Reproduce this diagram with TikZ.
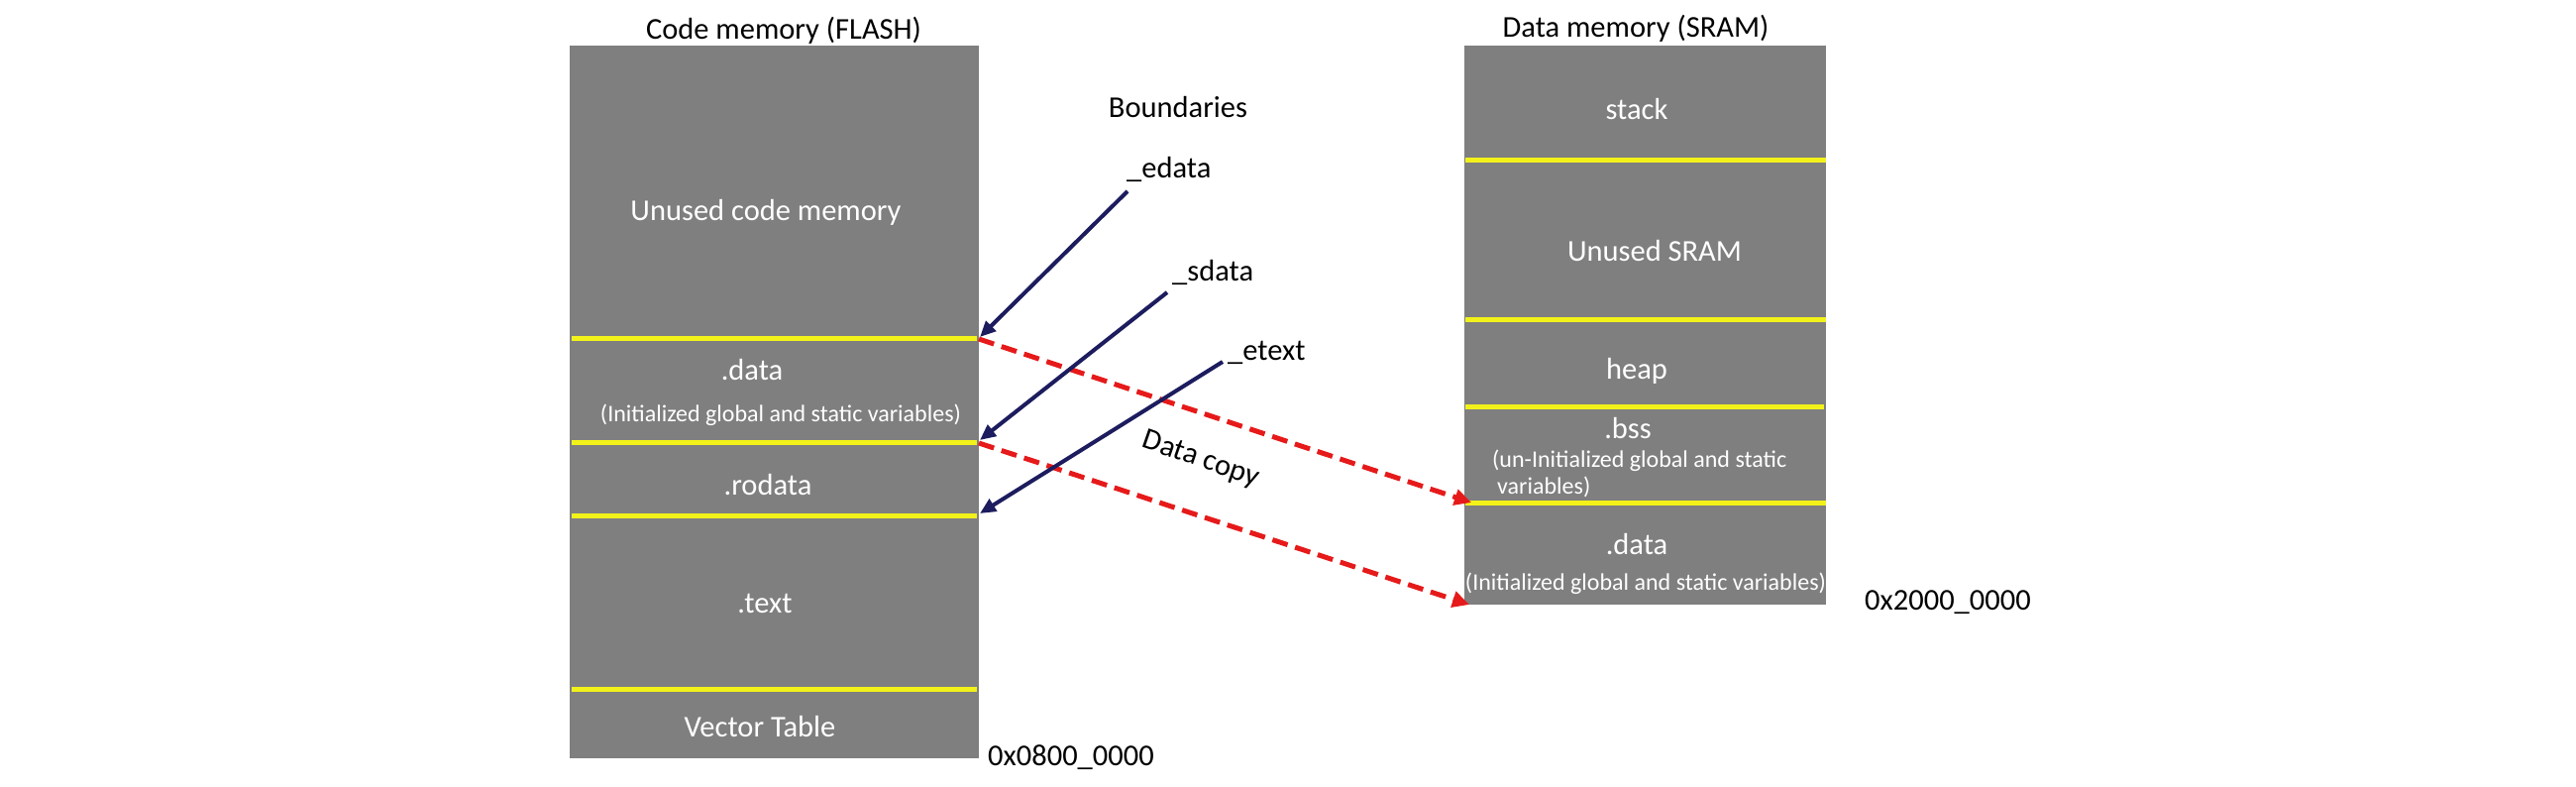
\documentclass[tikz,border=0pt]{standalone}
\usepackage{fontspec}
\setmainfont{Carlito}
\usetikzlibrary{arrows.meta}
\definecolor{memgray}{HTML}{7F7F7F}
\definecolor{bndyellow}{HTML}{F2F21A}
\definecolor{navyblue}{HTML}{1C1C5E}
\definecolor{copyred}{HTML}{E61A1A}
\begin{document}
\begin{tikzpicture}[x=1pt,y=-1pt,
  memblock/.style={fill=memgray, inner sep=0pt, anchor=north west},
  wtxt/.style={text=white, inner sep=0pt, anchor=base},
  btxt/.style={text=black, inner sep=0pt, anchor=base},
  bigfont/.style={font=\fontsize{30.5}{36}\selectfont},
  lnote/.style={font=\fontsize{24}{28}\selectfont},
  sepline/.style={draw=bndyellow, line width=5pt},
  bndarrow/.style={draw=navyblue, line width=4pt, -{Triangle[length=16pt,width=14pt]}},
  copyarrow/.style={draw=copyred, line width=5pt, dash pattern=on 16pt off 8pt, -{Triangle[length=17pt,width=16pt]}}]
\useasboundingbox[fill=white] (0,0) rectangle (2600,793);

% memory blocks
\node[memblock, minimum width=413pt, minimum height=719pt] (flash) at (575,46) {};
\node[memblock, minimum width=365pt, minimum height=564pt] (sram) at (1478,46) {};

% separators
\draw[sepline] (577,341) -- (986,341);
\draw[sepline] (577,446) -- (986,446);
\draw[sepline] (577,520) -- (986,520);
\draw[sepline] (577,695) -- (986,695);
\draw[sepline] (1479,161) -- (1843,161);
\draw[sepline] (1479,322) -- (1843,322);
\draw[sepline] (1479,410) -- (1841,410);
\draw[sepline] (1479,507) -- (1843,507);

% titles
\node[btxt, bigfont] (flashtitle) at (791,39) {Code memory (FLASH)};
\node[btxt, bigfont] (sramtitle) at (1651,37) {Data memory (SRAM)};

% flash contents
\node[wtxt, bigfont] (unusedcode) at (773,222) {Unused code memory};
\node[wtxt, bigfont] (fdata) at (759,383) {.data};
\node[wtxt, lnote] (fdatanote) at (788,425) {(Initialized global and static variables)};
\node[wtxt, bigfont] (rodata) at (775,499) {.rodata};
\node[wtxt, bigfont] (text) at (772,618) {.text};
\node[wtxt, bigfont] (vectab) at (767,743) {Vector Table};
\node[btxt, bigfont, anchor=base west] (flashaddr) at (997,772) {0x0800\_0000};

% sram contents
\node[wtxt, bigfont] (stack) at (1652,120) {stack};
\node[wtxt, bigfont] (unusedsram) at (1670,263) {Unused SRAM};
\node[wtxt, bigfont] (heap) at (1652,382) {heap};
\node[wtxt, bigfont] (bss) at (1643,442) {.bss};
\node[wtxt, lnote, anchor=base west] (bssnote1) at (1506,471) {(un-Initialized global and static};
\node[wtxt, lnote, anchor=base west] (bssnote2) at (1511,498) {variables)};
\node[wtxt, bigfont] (sdata) at (1652,559) {.data};
\node[wtxt, lnote] (sdatanote) at (1661,595) {(Initialized global and static variables)};
\node[btxt, bigfont, anchor=base west] (sramaddr) at (1882,615) {0x2000\_0000};

% boundaries labels
\node[btxt, bigfont] (boundaries) at (1189,118) {Boundaries};
\node[btxt, bigfont, anchor=base west] (edata) at (1137,179) {\_edata};
\node[btxt, bigfont, anchor=base west] (sdatalab) at (1183,283) {\_sdata};
\node[btxt, bigfont, anchor=base west] (etext) at (1239,363) {\_etext};

% connector end points
\coordinate (edataS) at (1138,193);
\coordinate (sdataS) at (1178,295);
\coordinate (etextS) at (1234,365);
\coordinate (fEdata) at (989,340);
\coordinate (fSdata) at (989,444);
\coordinate (fEtext) at (989,518);
\coordinate (fEdataR) at (988,342);
\coordinate (fSdataR) at (988,447);
\coordinate (sBss) at (1485,507);
\coordinate (sBase) at (1483,610);

% data copy arrows
\draw[copyarrow] (fEdataR) -- (sBss);
\draw[copyarrow] (fSdataR) -- (sBase);
\node[btxt, bigfont, anchor=center, rotate=-19] (datacopy) at (1212,464) {Data copy};

% boundary arrows
\draw[bndarrow] (edataS) -- (fEdata);
\draw[bndarrow] (sdataS) -- (fSdata);
\draw[bndarrow] (etextS) -- (fEtext);
\end{tikzpicture}
\end{document}
